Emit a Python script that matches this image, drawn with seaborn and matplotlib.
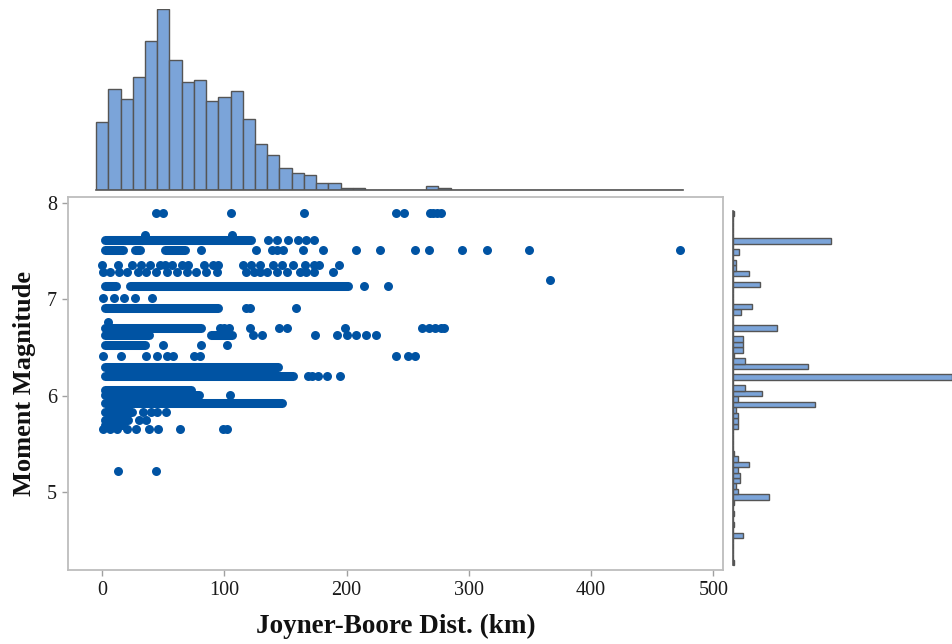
import numpy as np
import pandas as pd
import matplotlib
matplotlib.use("Agg")
import matplotlib.pyplot as plt
import seaborn as sns

# ---------------- data ----------------
# dense runs of records (magnitude, first and last distance in km)
band_mag   = [7.62, 7.51, 7.51, 7.51, 7.14, 7.14, 6.91, 6.70, 6.63, 6.63, 6.53,
              6.30, 6.20, 6.06, 6.01, 5.92, 5.83, 5.75, 5.69]
band_start = [2, 2, 27, 51, 2, 23, 2, 2, 2, 89, 2, 2, 2, 2, 2, 2, 2, 2, 2]
band_end   = [122, 17, 31, 68, 11, 201, 95, 81, 38, 106, 35, 144, 156, 73, 79, 147, 24, 21, 16]

# isolated records
dot_mag = ([7.90] * 10 + [7.67] * 2 + [7.62] * 6 + [7.51] * 15 + [7.36] * 23 +
           [7.29] * 23 + [7.20] + [7.14] * 2 + [7.01] * 5 + [6.91] * 3 + [6.77] +
           [6.70] * 12 + [6.63] * 8 + [6.53] * 3 + [6.41] * 11 + [6.20] * 5 +
           [6.01] + [5.83] * 4 + [5.75] * 2 + [5.65] * 10 + [5.22] * 2)
dot_dist = [44, 50, 105, 165, 240, 247, 268, 271, 274, 277,
            35, 106,
            136, 143, 152, 160, 167, 173,
            81, 126, 138.6, 143, 148, 164.5, 181, 208, 227, 256, 267, 294, 315, 349, 472.7,
            -0.5, 13, 24, 32, 39, 47, 51, 57, 65, 70, 83, 91, 95, 115, 122, 129, 140, 147,
            156, 166, 173, 177, 194,
            1, 6, 14, 20, 29, 36, 44, 53, 61, 69, 77, 85, 94, 118, 124, 129, 135, 143, 151,
            162, 167, 173, 189,
            366,
            214, 233.5,
            1, 10, 18, 27, 41,
            118, 121, 158.5,
            5,
            96, 100, 104, 121, 145, 151, 199, 262, 267, 272, 277, 280,
            123, 131, 174, 192, 200, 208, 216, 224,
            50, 81, 102,
            1, 15, 36, 44.5, 53, 58, 75, 80, 240, 250, 256,
            168, 172, 176.5, 184, 194.5,
            104.5,
            33, 40, 45, 52,
            30, 36,
            0.5, 6, 12, 20, 28, 38, 46, 64, 99, 102,
            13, 44]

# marginal histogram of distance (10 km bins centred on multiples of 10)
top_dist  = [0, 10, 20, 30, 40, 50, 60, 70, 80, 90, 100, 110, 120, 130, 140, 150,
             160, 170, 180, 190, 200, 210, 270, 280]
top_count = [68.3, 100.7, 91, 113.3, 149, 180.7, 130.3, 107.7, 109.7, 89.3, 92.7, 98.7,
             70.7, 46.3, 35, 22, 16.7, 14.7, 7.3, 7.3, 1.7, 1.7, 3.7, 1.7]

# marginal histogram of magnitude
right_mag   = [7.892, 7.608, 7.495, 7.381, 7.325, 7.268, 7.155, 6.928, 6.871, 6.701,
               6.588, 6.531, 6.474, 6.417, 6.361, 6.304, 6.191, 6.077, 6.020, 5.964,
               5.907, 5.850, 5.793, 5.737, 5.680, 5.397, 5.340, 5.283, 5.227, 5.170,
               5.113, 5.056, 5.000, 4.943, 4.886, 4.773, 4.659, 4.546, 4.263]
right_count = [1.3, 98.7, 6.7, 3, 3, 16.3, 27.3, 19.7, 8.7, 44.3,
               10.3, 10.3, 10.3, 1.3, 12.7, 75.7, 219, 12.7, 29, 5,
               82, 3, 5, 5, 5, 1.3, 5, 16.3, 5, 7,
               7, 3, 5, 36.7, 1.3, 1.3, 1.3, 10.3, 1.3]

x_ticks = [0, 100, 200, 300, 400, 500]
y_ticks = [5, 6, 7, 8]

# ---------------- style ----------------
sns.set_style("white")
plt.rcParams['font.family'] = ['Liberation Serif', 'DejaVu Serif']

DOT = '#0053a3'
FILL = '#7ba4d9'
EDGE = '#555555'

fig = plt.figure(figsize=(9.52, 6.44), dpi=100)
W, H = 952, 644
def ax_px(l, t, r, b):
    return fig.add_axes([l / W, (H - b) / H, (r - l) / W, (b - t) / H])

ax = ax_px(68.3, 197.3, 723.3, 570)
ax_top = ax_px(68.3, 9, 723.3, 190)
ax_right = ax_px(732.7, 197.3, 952, 570)

# bands
bdf = pd.DataFrame({
    'band': np.repeat(np.arange(len(band_mag)), 2),
    'dist': np.ravel(np.column_stack([band_start, band_end])),
    'mag': np.repeat(band_mag, 2),
})
sns.lineplot(data=bdf, x='dist', y='mag', units='band', estimator=None, sort=False,
             color=DOT, lw=6.5, solid_capstyle='round', legend=False, ax=ax)
sns.scatterplot(x=dot_dist, y=dot_mag, s=42, color=DOT, linewidth=0, ax=ax)

ax.set_xlim(-27.8, 508.2)
ax.set_ylim(4.185, 8.062)
ax.set_xticks(x_ticks)
ax.set_yticks(y_ticks)
ax.tick_params(axis='both', which='major', bottom=True, left=True, direction='out',
               length=4, width=1, color='#a0a0a0', labelsize=14.5, labelcolor='#1a1a1a',
               pad=4)
for s in ax.spines.values():
    s.set_color('#bdbdbd')
    s.set_linewidth(1.3)
ax.set_xlabel('Joyner-Boore Dist. (km)', fontsize=19.5, fontweight='bold', color='#111111')
ax.set_ylabel('Moment Magnitude', fontsize=19, fontweight='bold', color='#111111')
ax.xaxis.set_label_coords(0.5, -0.118)
ax.yaxis.set_label_coords(-0.05, 0.5)

# marginal histograms
sns.histplot(x=top_dist, weights=top_count, binwidth=10, binrange=(-5, 475),
             color=FILL, alpha=1, edgecolor=EDGE, linewidth=1.0, ax=ax_top)
ax_top.set_xlim(-27.8, 508.2)
ax_top.set_ylim(0, 181)

sns.histplot(y=right_mag, weights=right_count, bins=65, binrange=(4.2345, 7.92),
             color=FILL, alpha=1, edgecolor=EDGE, linewidth=1.0, ax=ax_right)
ax_right.set_ylim(4.185, 8.062)
ax_right.set_xlim(0, 219.3)

for a, keep, bounds in [(ax_top, 'bottom', (-5, 475)), (ax_right, 'left', (4.2345, 7.92))]:
    for name, sp in a.spines.items():
        if name == keep:
            sp.set_visible(True)
            sp.set_color(EDGE)
            sp.set_linewidth(1.2)
            sp.set_bounds(*bounds)
        else:
            sp.set_visible(False)
    a.set_xticks([])
    a.set_yticks([])
    a.set_xlabel('')
    a.set_ylabel('')
    a.patch.set_alpha(0)

fig.savefig('out.png', dpi=100)
